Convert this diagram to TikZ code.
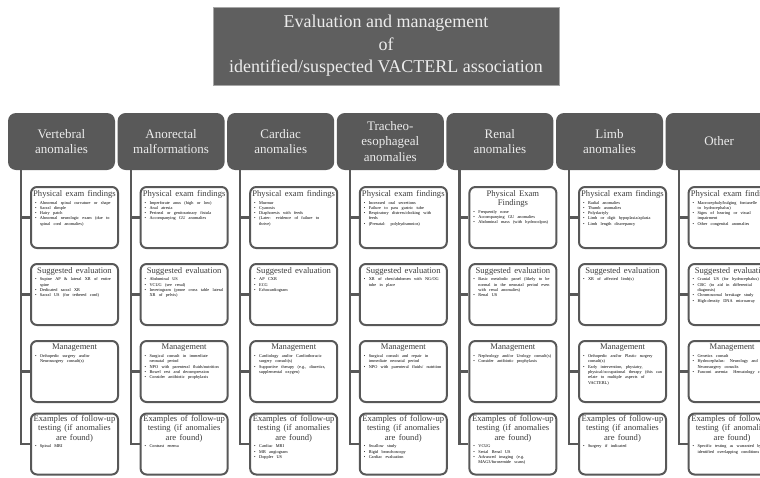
\documentclass[tikz,border=0pt]{standalone}
\usepackage{fontspec}
\setmainfont{Liberation Serif}
\definecolor{hdrgray}{RGB}{89,89,89}
\definecolor{ttlgray}{RGB}{95,95,95}
\definecolor{boxgray}{RGB}{88,88,88}
\definecolor{hdrtext}{RGB}{236,236,236}
\definecolor{titlegray}{RGB}{60,60,60}
\tikzset{
  x=1pt, y=-1pt,
  titlebox/.style={fill=ttlgray, draw=gray!70, line width=0.6pt, minimum width=346pt, minimum height=78pt, inner sep=0pt, text=hdrtext, align=center, font=\fontsize{18}{22.5}\selectfont},
  hdr/.style={fill=hdrgray, rounded corners=8pt, minimum width=107pt, minimum height=57pt, inner sep=0pt, text=hdrtext, align=center, font=\fontsize{13}{15.5}\selectfont},
  infobox/.style={draw=boxgray, line width=2pt, rounded corners=6pt, fill=white, minimum width=87pt, minimum height=61pt, inner sep=0pt},
  boxtext/.style={anchor=north, text width=84pt, inner sep=0pt, align=left},
  conn/.style={draw=boxgray, line width=2.2pt},
}
\newcommand\bt[1]{{\centering\fontsize{8.6}{9.2}\selectfont\color{titlegray}#1\par}\vspace{2.5pt}}
\newcommand\bi[1]{\par{\fontsize{4.3}{5.3}\selectfont\leftskip=2.5pt\rightskip=2pt plus 1fil\hangindent=5pt\hangafter=1\noindent\hbox to 5pt{\textbullet\hfil}#1\par}}
\newcommand\vcol[8]{%
  \coordinate (v#1) at (#2+13,444);
  \node[hdr] (h#1) at (#2+53.5,141.5) {#3};
  \node[infobox] (p#1) at (#2+66.5,217.5) {};
  \node[infobox] (s#1) at (#2+66.5,294.5) {};
  \node[infobox] (m#1) at (#2+66.5,371.5) {};
  \node[infobox] (e#1) at (#2+66.5,444) {};
  \draw[conn] (v#1 |- h#1.south) -- (v#1) -- (e#1.west);
  \draw[conn] (v#1 |- p#1.west) -- (p#1.west);
  \draw[conn] (v#1 |- s#1.west) -- (s#1.west);
  \draw[conn] (v#1 |- m#1.west) -- (m#1.west);
  \node[boxtext] (tp#1) at ([yshift=-4pt]p#1.north) {\bt{#4}#5};
  \node[boxtext] (ts#1) at ([yshift=-4pt]s#1.north) {\bt{Suggested evaluation}#6};
  \node[boxtext] (tm#1) at ([yshift=-4pt]m#1.north) {\bt{Management}#7};
  \node[boxtext] (te#1) at ([yshift=-3pt]e#1.north) {\bt{Examples of follow-up\\testing (if anomalies\\are found)}#8};
}
\begin{document}
\begin{tikzpicture}
\useasboundingbox (0,0) rectangle (760,477);
\clip (0,0) rectangle (760,477);
\node[titlebox] (title) at (386,46) {Evaluation and management\\of\\identified/suspected VACTERL association};

\vcol{1}{8}{Vertebral\\anomalies}{Physical exam findings}
 {\bi{Abnormal spinal curvature or shape}\bi{Sacral dimple}\bi{Hairy patch}\bi{Abnormal neurologic exam (due to spinal cord anomalies)}}
 {\bi{Supine AP \& lateral XR of entire spine}\bi{Dedicated sacral XR}\bi{Sacral US (for tethered cord)}}
 {\bi{Orthopedic surgery and/or Neurosurgery consult(s)}}
 {\bi{Spinal MRI}}

\vcol{2}{117.6}{Anorectal\\malformations}{Physical exam findings}
 {\bi{Imperforate anus (high or low)}\bi{Anal atresia}\bi{Perineal or genitourinary fistula}\bi{Accompanying GU anomalies}}
 {\bi{Abdominal US}\bi{VCUG (see renal)}\bi{Invertogram (prone cross table lateral XR of pelvis)}}
 {\bi{Surgical consult in immediate neonatal period}\bi{NPO with parenteral fluids/nutrition}\bi{Bowel rest and decompression}\bi{Consider antibiotic prophylaxis}}
 {\bi{Contrast enema}}

\vcol{3}{227.2}{Cardiac\\anomalies}{Physical exam findings}
 {\bi{Murmur}\bi{Cyanosis}\bi{Diaphoresis with feeds}\bi{(Later: evidence of failure to thrive)}}
 {\bi{AP CXR}\bi{ECG}\bi{Echocardiogram}}
 {\bi{Cardiology and/or Cardiothoracic surgery consult(s)}\bi{Supportive therapy (e.g., diuretics, supplemental oxygen)}}
 {\bi{Cardiac MRI}\bi{MR angiogram}\bi{Doppler US}}

\vcol{4}{336.8}{Tracheo-\\esophageal\\anomalies}{Physical exam findings}
 {\bi{Increased oral secretions}\bi{Failure to pass gastric tube}\bi{Respiratory distress/choking with feeds}\bi{(Prenatal: polyhydramnios)}}
 {\bi{XR of chest/abdomen with NG/OG tube in place}}
 {\bi{Surgical consult and repair in immediate neonatal period}\bi{NPO with parenteral fluids/ nutrition}}
 {\bi{Swallow study}\bi{Rigid bronchoscopy}\bi{Cardiac evaluation}}

\vcol{5}{446.4}{Renal\\anomalies}{Physical Exam\\Findings}
 {\bi{Frequently none}\bi{Accompanying GU anomalies}\bi{Abdominal mass (with hydrocolpos)}}
 {\bi{Basic metabolic panel (likely to be normal in the neonatal period even with renal anomalies)}\bi{Renal US}}
 {\bi{Nephrology and/or Urology consult(s)}\bi{Consider antibiotic prophylaxis}}
 {\bi{VCUG}\bi{Serial Renal US}\bi{Advanced imaging (e.g. MAG3/furosemide scans)}}

\vcol{6}{556}{Limb\\anomalies}{Physical exam findings}
 {\bi{Radial anomalies}\bi{Thumb anomalies}\bi{Polydactyly}\bi{Limb or digit hypoplasia/aplasia}\bi{Limb length discrepancy}}
 {\bi{XR of affected limb(s)}}
 {\bi{Orthopedic and/or Plastic surgery consult(s)}\bi{Early intervention, physiatry, physical/occupational therapy (this can relate to multiple aspects of VACTERL)}}
 {\bi{Surgery if indicated}}

\vcol{7}{665.6}{Other}{Physical exam findings}
 {\bi{Macrocephaly/bulging fontanelle (due to hydrocephalus)}\bi{Signs of hearing or visual impairment}\bi{Other congenital anomalies}}
 {\bi{Cranial US (for hydrocephalus)}\bi{CBC (to aid in differential diagnosis)}\bi{Chromosomal breakage study}\bi{High-density DNA microarray}}
 {\bi{Genetics consult}\bi{Hydrocephalus: Neurology and Neurosurgery consults}\bi{Fanconi anemia: Hematology consult}}
 {\bi{Specific testing as warranted by identified overlapping conditions}}
\end{tikzpicture}
\end{document}
